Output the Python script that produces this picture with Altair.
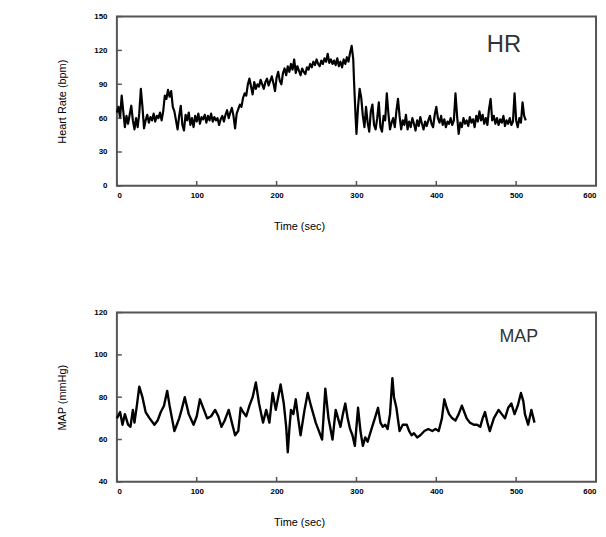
import altair as alt
import pandas as pd

# ---- data ----
HR_TIME = [0, 2, 4, 6, 8, 10, 12, 14, 16, 18, 20, 22, 24, 26, 28, 30, 32, 34, 36, 38,
           40, 42, 44, 46, 48, 50, 52, 54, 56, 58, 60, 62, 64, 66, 68, 70, 72, 74, 76, 78,
           80, 82, 84, 86, 88, 90, 92, 94, 96, 98, 100, 102, 104, 106, 108, 110, 112, 114, 116, 118,
           120, 122, 124, 126, 128, 130, 132, 134, 136, 138, 140, 142, 144, 146, 148, 150, 152, 154, 156, 158,
           160, 162, 164, 166, 168, 170, 172, 174, 176, 178, 180, 182, 184, 186, 188, 190, 192, 194, 196, 198,
           200, 202, 204, 206, 208, 210, 212, 214, 216, 218, 220, 222, 224, 226, 228, 230, 232, 234, 236, 238,
           240, 242, 244, 246, 248, 250, 252, 254, 256, 258, 260, 262, 264, 266, 268, 270, 272, 274, 276, 278,
           280, 282, 284, 286, 288, 290, 292, 294, 296, 297, 299, 300, 302, 304, 306, 308, 310, 312, 314, 316,
           318, 320, 322, 324, 326, 328, 330, 332, 334, 336, 338, 340, 342, 344, 346, 348, 350, 352, 354, 356,
           358, 360, 362, 364, 366, 368, 370, 372, 374, 376, 378, 380, 382, 384, 386, 388, 390, 392, 394, 396,
           398, 400, 402, 404, 406, 408, 410, 412, 414, 416, 418, 420, 422, 424, 426, 428, 430, 432, 434, 436,
           438, 440, 442, 444, 446, 448, 450, 452, 454, 456, 458, 460, 462, 464, 466, 468, 470, 472, 474, 476,
           478, 480, 482, 484, 486, 488, 490, 492, 494, 496, 498, 500, 502, 504, 506, 508, 510, 512]
HR_BPM = [65, 70, 60, 80, 66, 52, 62, 55, 63, 71, 58, 50, 60, 52, 64, 86, 70, 51, 58, 63,
          56, 61, 58, 64, 57, 62, 60, 65, 58, 66, 80, 77, 85, 79, 84, 70, 66, 58, 50, 62,
          71, 54, 49, 63, 58, 65, 54, 60, 52, 62, 57, 64, 55, 61, 59, 63, 56, 62, 58, 64,
          57, 61, 58, 60, 54, 59, 62, 57, 63, 67, 60, 65, 69, 62, 51, 64, 68, 72, 70, 78,
          82, 80, 90, 95, 88, 81, 92, 86, 90, 88, 94, 90, 86, 92, 95, 89, 93, 97, 91, 84,
          96, 101, 93, 90, 100, 104, 98, 106, 101, 108, 103, 112, 100, 106, 102, 98, 104, 101, 99, 105,
          103, 108, 105, 110, 107, 112, 108, 106, 111, 108, 113, 110, 117, 109, 112, 108, 111, 107, 113, 106,
          110, 105, 112, 108, 114, 110, 118, 124, 112, 92, 60, 46, 70, 86, 78, 62, 52, 70, 56, 48,
          66, 72, 54, 50, 60, 74, 52, 48, 62, 58, 82, 64, 50, 56, 60, 52, 66, 77, 62, 50,
          58, 54, 63, 50, 57, 52, 60, 55, 49, 58, 53, 61, 55, 50, 57, 53, 58, 62, 55, 52,
          63, 70, 60, 56, 62, 54, 59, 52, 57, 55, 60, 54, 58, 82, 62, 46, 56, 52, 60, 55,
          58, 53, 61, 56, 59, 52, 62, 57, 66, 58, 63, 55, 60, 54, 68, 77, 58, 62, 55, 60,
          54, 59, 56, 62, 53, 58, 55, 60, 54, 57, 82, 58, 52, 60, 56, 74, 62, 58]

MAP_TIME = [0, 4, 7, 10, 14, 17, 20, 22, 25, 28, 32, 36, 41, 47, 51, 55, 59, 63, 66, 69,
            72, 75, 78, 81, 85, 90, 96, 100, 104, 109, 113, 118, 123, 127, 131, 135, 140, 144, 148, 152,
            155, 158, 162, 166, 170, 174, 178, 183, 187, 191, 195, 199, 202, 205, 209, 212, 214, 216, 218, 221,
            224, 227, 230, 235, 239, 243, 246, 249, 253, 257, 261, 265, 270, 274, 277, 280, 283, 286, 289, 292,
            295, 298, 302, 305, 308, 311, 314, 318, 323, 327, 330, 333, 336, 339, 342, 345, 347, 350, 354, 358,
            363, 366, 369, 372, 376, 380, 385, 390, 395, 399, 403, 407, 410, 413, 416, 420, 424, 428, 432, 435,
            438, 442, 447, 451, 455, 458, 461, 464, 467, 472, 478, 482, 486, 490, 494, 498, 502, 506, 509, 511,
            515, 519, 523]
MAP_MMHG = [70, 73, 67, 72, 67, 66, 74, 68, 76, 85, 80, 73, 70, 67, 69, 73, 76, 83, 76, 70,
            64, 67, 70, 74, 80, 72, 67, 71, 79, 74, 70, 71, 74, 71, 66, 69, 74, 68, 62, 64,
            75, 73, 71, 76, 80, 87, 77, 68, 74, 68, 82, 74, 80, 86, 77, 66, 54, 65, 74, 72,
            79, 70, 62, 74, 82, 76, 72, 68, 64, 60, 84, 70, 60, 74, 70, 66, 72, 77, 70, 65,
            62, 57, 75, 64, 57, 61, 59, 64, 70, 75, 68, 66, 67, 65, 72, 89, 80, 75, 64, 67,
            67, 64, 62, 63, 61, 62, 64, 65, 64, 65, 64, 70, 79, 75, 72, 70, 69, 72, 76, 73,
            70, 68, 67, 67, 66, 70, 73, 68, 64, 70, 74, 72, 70, 75, 77, 72, 76, 82, 78, 72,
            67, 74, 68]

X_TICKS = [0, 100, 200, 300, 400, 500, 600]
HR_TICKS = [0, 30, 60, 90, 120, 150]
MAP_TICKS = [40, 60, 80, 100, 120]

W, H = 484, 171
FONT = "Liberation Sans"


def axis_common(**kw):
    return alt.Axis(domain=False, ticks=False, grid=False,
                    labelFont=FONT, labelFontSize=8, labelFontWeight="bold", labelColor="black",
                    titleFont=FONT, titleFontSize=11, titleFontWeight="normal", titleColor="black",
                    format="d", **kw)


def panel(times, values, ytitle, ydomain, yticks, label, label_size, lx, ly, sw):
    df = pd.DataFrame({"t": times, "v": values})
    xscale = alt.Scale(domain=[0, 600], nice=False, zero=False)
    yscale = alt.Scale(domain=ydomain, nice=False, zero=False)
    xaxis = axis_common(values=X_TICKS, title="Time (sec)", titleX=184, titleAlign="center",
                        titlePadding=21, labelPadding=6)
    yaxis = axis_common(values=yticks, title=ytitle, labelPadding=10, titlePadding=27)
    line = alt.Chart(df).mark_line(color="black", strokeWidth=sw, strokeJoin="round").encode(
        x=alt.X("t:Q", scale=xscale, axis=xaxis),
        y=alt.Y("v:Q", scale=yscale, axis=yaxis),
    )
    yt = alt.Chart(pd.DataFrame({"v": yticks})).mark_rule(color="#555", strokeWidth=1.5).encode(
        y=alt.Y("v:Q", scale=yscale, axis=yaxis),
        x=alt.value(0), x2=alt.value(5),
    )
    xt = alt.Chart(pd.DataFrame({"t": X_TICKS})).mark_rule(color="#555", strokeWidth=1.5).encode(
        x=alt.X("t:Q", scale=xscale, axis=xaxis),
        y=alt.value(H), y2=alt.value(H - 5),
    )
    txt = alt.Chart(pd.DataFrame({"s": [label]})).mark_text(
        font=FONT, fontSize=label_size, color="#333", align="center", baseline="middle"
    ).encode(text="s:N", x=alt.value(lx), y=alt.value(ly))
    return alt.layer(line, yt, xt, txt).properties(width=W, height=H)


top = panel(HR_TIME, HR_BPM, "Heart Rate (bpm)", [0, 150], HR_TICKS, "HR", 24, 391, 29, 2.2)
bottom = panel(MAP_TIME, MAP_MMHG, "MAP (mmHg)", [40, 120], MAP_TICKS, "MAP", 18, 406, 25, 2.4)

chart = alt.vconcat(top, bottom, spacing=76).properties(
    padding={"left": 47, "top": 1, "right": 0, "bottom": 0}
).configure(
    background="white"
).configure_view(
    stroke="#555", strokeWidth=2
)

chart.save("out.html", embed_options={"renderer": "svg", "actions": False})
